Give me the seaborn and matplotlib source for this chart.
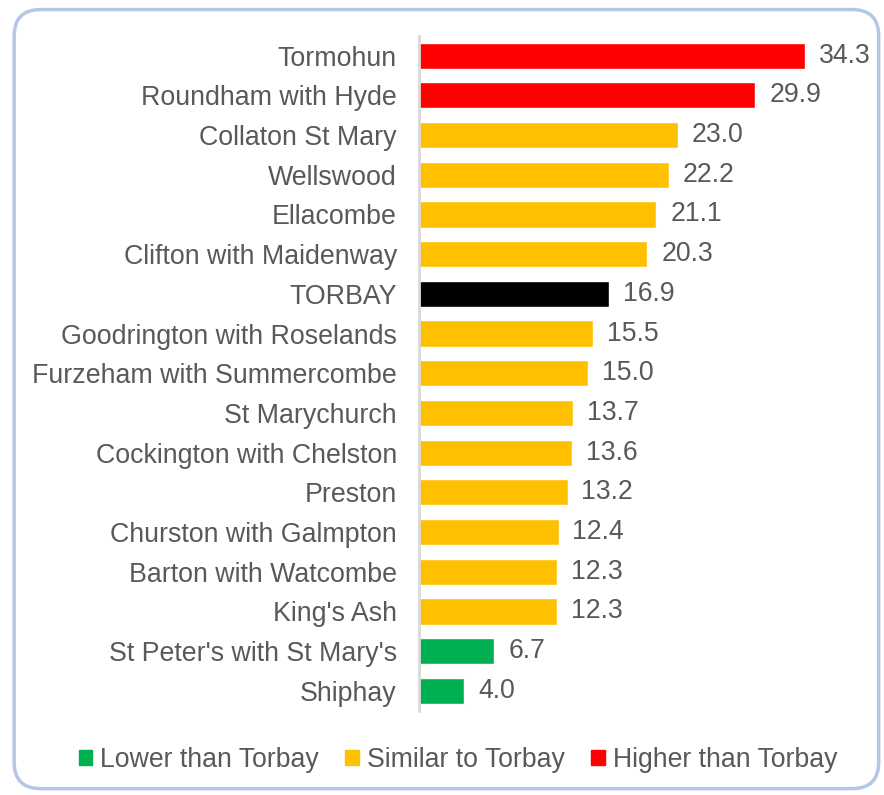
import matplotlib
matplotlib.use("Agg")
import matplotlib.pyplot as plt
import seaborn as sns
import pandas as pd
from matplotlib.patches import FancyBboxPatch, Patch

wards = ["Tormohun", "Roundham with Hyde", "Collaton St Mary", "Wellswood", "Ellacombe",
         "Clifton with Maidenway", "TORBAY", "Goodrington with Roselands",
         "Furzeham with Summercombe", "St Marychurch", "Cockington with Chelston",
         "Preston", "Churston with Galmpton", "Barton with Watcombe", "King's Ash",
         "St Peter's with St Mary's", "Shiphay"]
values = [34.3, 29.9, 23.0, 22.2, 21.1, 20.3, 16.9, 15.5, 15.0, 13.7, 13.6,
          13.2, 12.4, 12.3, 12.3, 6.7, 4.0]
groups = ["Higher", "Higher", "Similar", "Similar", "Similar", "Similar", "Torbay",
          "Similar", "Similar", "Similar", "Similar", "Similar", "Similar", "Similar",
          "Similar", "Lower", "Lower"]

palette = {"Lower": "#00B050", "Similar": "#FFC000", "Higher": "#FF0000", "Torbay": "#000000"}
grey = "#595959"

df = pd.DataFrame({"ward": wards, "value": values, "group": groups})

sns.set_style("white")
plt.rcParams["font.family"] = ["Liberation Sans", "DejaVu Sans"]

fig = plt.figure(figsize=(8.84, 7.95), dpi=100)
ax = fig.add_axes([0.474, 0.106, 0.509, 0.849])

sns.barplot(data=df, x="value", y="ward", hue="group", palette=palette, saturation=1,
            dodge=False, width=0.66, legend=False, ax=ax, orient="h")

for c in ax.containers:
    ax.bar_label(c, labels=[f"{v:.1f}" for v in c.datavalues], padding=10,
                 fontsize=19.2, color=grey)

ax.set_xlim(0, 40)
ax.set_ylim(len(wards) - 0.5, -0.5)
ax.set_xlabel("")
ax.set_ylabel("")
ax.set_xticks([])
ax.tick_params(axis="y", length=0, pad=16, labelsize=19.3, labelcolor=grey)
for s in ["top", "right", "bottom"]:
    ax.spines[s].set_visible(False)
ax.spines["left"].set_color("#D9D9D9")
ax.spines["left"].set_linewidth(2)

handles = [Patch(color=palette["Lower"], label="Lower than Torbay"),
           Patch(color=palette["Similar"], label="Similar to Torbay"),
           Patch(color=palette["Higher"], label="Higher than Torbay")]
leg = fig.legend(handles=handles, loc="center", bbox_to_anchor=(0.518, 0.044), ncol=3,
                 frameon=False, fontsize=19.2, handlelength=0.5, handleheight=0.5,
                 handletextpad=0.3, columnspacing=1.0)
for t in leg.get_texts():
    t.set_color(grey)

border = FancyBboxPatch((0.016, 0.008), 0.978, 0.98, boxstyle="round,pad=0,rounding_size=0.03",
                        transform=fig.transFigure, fill=False, edgecolor="#B4C7E7",
                        linewidth=2.5, mutation_aspect=884 / 795)
fig.patches.append(border)

fig.savefig("out.png", dpi=100)
